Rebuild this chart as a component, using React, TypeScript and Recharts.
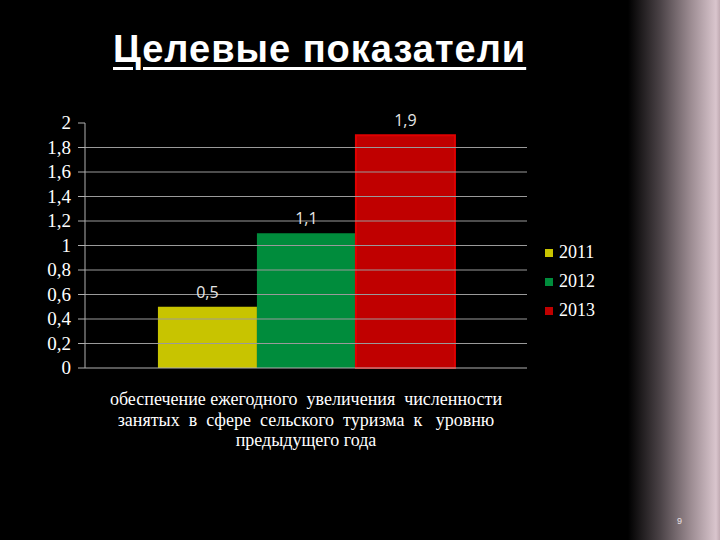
import React from 'react';
import { BarChart, Bar, XAxis, YAxis, CartesianGrid, LabelList, ReferenceLine } from 'recharts';

const categories = ['обеспечение ежегодного увеличения численности занятых в сфере сельского туризма к уровню предыдущего года'];
const categoryLines = [
    'обеспечение ежегодного  увеличения  численности',
    'занятых  в  сфере  сельского  туризма  к   уровню',
    'предыдущего года',
];
const years = ['2011', '2012', '2013'];
const values2011 = [0.5];
const values2012 = [1.1];
const values2013 = [1.9];
const yTicks = [0, 0.2, 0.4, 0.6, 0.8, 1, 1.2, 1.4, 1.6, 1.8, 2];

const colors = ['#c8c400', '#008c3c', '#c00000'];
const serif = '"Liberation Serif", "DejaVu Serif", serif';

const data = categories.map((name, i) => ({
    name,
    y2011: values2011[i],
    y2012: values2012[i],
    y2013: values2013[i],
}));

const comma = (v: any) => String(v).replace('.', ',');

const CategoryTick = (props: any) => {
    const { x, y } = props;
    return (
        <text x={x} y={y} textAnchor="middle" fill="#ffffff" fontFamily={serif} fontSize={18}>
            {categoryLines.map((line, i) => (
                <tspan key={i} x={x} dy={i === 0 ? 29 : 20.5} style={{ whiteSpace: 'pre' }}>{line}</tspan>
            ))}
        </text>
    );
};

const ValueTick = (props: any) => {
    const { x, y, payload } = props;
    return (
        <text x={x} y={y} dy={6} textAnchor="end" fill="#ffffff" fontFamily={serif} fontSize={19}>
            {comma(payload.value)}
        </text>
    );
};

export default function App() {
    return (
        <div style={{
            position: 'absolute', left: 0, top: 0, width: 720, height: 540, overflow: 'hidden',
            background: 'linear-gradient(to right, #000 0px, #000 628px, #4a4246 660px, #9a8a90 690px, #d9c5cd 716px, #c0aab2 720px)',
        }}>
            <div style={{
                position: 'absolute', left: 113, top: 28, fontFamily: '"Liberation Sans", Arial, sans-serif',
                fontWeight: 'bold', fontSize: 38, letterSpacing: 1, color: '#ffffff', textDecoration: 'underline',
                textDecorationThickness: 3, textUnderlineOffset: 5, whiteSpace: 'nowrap',
            }}>
                Целевые показатели
            </div>
            <BarChart
                width={720}
                height={540}
                data={data}
                margin={{ top: 123, right: 193, left: 0, bottom: 72 }}
                barCategoryGap="16.5%"
                barGap={0}
                style={{ position: 'absolute', left: 0, top: 0 }}
            >
                <CartesianGrid horizontal={false} vertical={false} />
                {yTicks.slice(1, -1).map((t) => (
                    <ReferenceLine key={t} y={t} stroke="#9a9a9a" strokeWidth={1} />
                ))}
                <XAxis
                    dataKey="name"
                    height={100}
                    axisLine={{ stroke: '#b0b0b0' }}
                    tickLine={false}
                    tick={<CategoryTick />}
                    interval={0}
                />
                <YAxis
                    width={85}
                    domain={[0, 2]}
                    ticks={yTicks}
                    interval={0}
                    axisLine={{ stroke: '#b0b0b0' }}
                    tickLine={{ stroke: '#b0b0b0' }}
                    tickSize={7}
                    tickMargin={7}
                    tick={<ValueTick />}
                />
                {years.map((year, i) => (
                    <Bar key={year} dataKey={'y' + year} name={year} fill={colors[i]} isAnimationActive={false}
                        stroke={i === 2 ? '#e00000' : 'none'} strokeWidth={i === 2 ? 2 : 0}>
                        <LabelList dataKey={'y' + year} position="top" offset={9} formatter={comma}
                            fill="#e6e6e6" fontFamily='"Open Sans", sans-serif' fontSize={16} />
                    </Bar>
                ))}
            </BarChart>
            <div style={{ position: 'absolute', left: 545, top: 238 }}>
                {years.map((year, i) => (
                    <div key={year} style={{ display: 'flex', alignItems: 'center', height: 29 }}>
                        <span style={{ width: 8, height: 8, background: colors[i], display: 'inline-block', marginRight: 6 }} />
                        <span style={{ color: '#ffffff', fontFamily: serif, fontSize: 18 }}>{year}</span>
                    </div>
                ))}
            </div>
            <div style={{ position: 'absolute', left: 677, top: 516, fontSize: 9, color: '#e8e0e4', fontFamily: 'sans-serif' }}>9</div>
        </div>
    );
}
